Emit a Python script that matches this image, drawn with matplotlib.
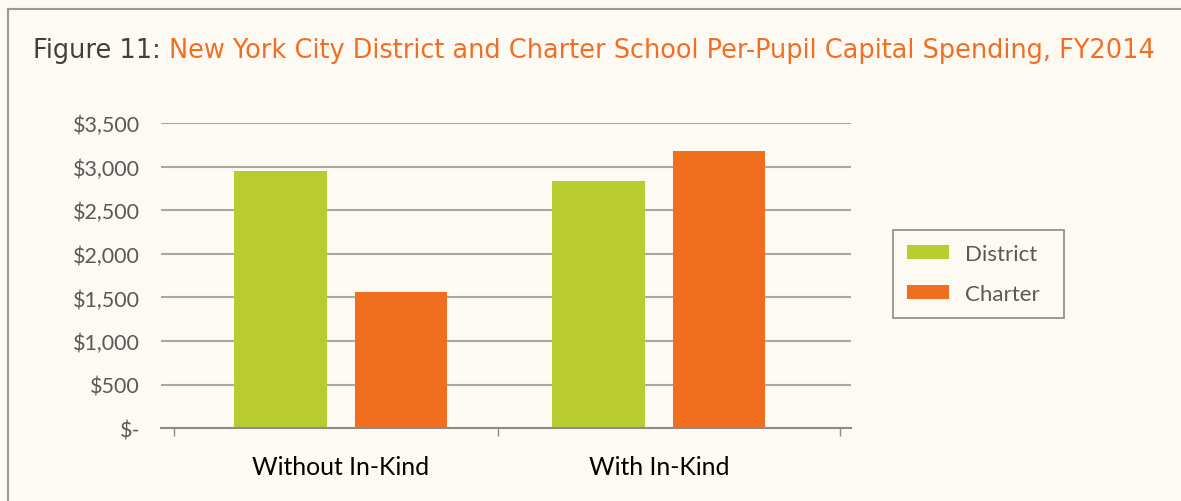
import matplotlib
matplotlib.use("Agg")
import matplotlib.pyplot as plt
import numpy as np

categories = ["Without In-Kind", "With In-Kind"]
series_names = ["District", "Charter"]
district = [2954, 2836]
charter = [1560, 3180]
yticks = [0, 500, 1000, 1500, 2000, 2500, 3000, 3500]
ytick_labels = ["$-", "$500", "$1,000", "$1,500", "$2,000", "$2,500", "$3,000", "$3,500"]
title_prefix = "Figure 11: "
title_main = "New York City District and Charter School Per-Pupil Capital Spending, FY2014"

BG = "#FDFAF3"
GREEN = "#B8CC30"
ORANGE = "#F06E1E"
GRID = "#A8A8A0"
TXT = "#595959"

fig = plt.figure(figsize=(11.81, 5.02), dpi=100, facecolor=BG)
W, H = 1181, 502

# outer border (left and top edges only visible)
fig.add_artist(plt.Line2D([8 / W, 8 / W], [0, 1 - 9.5 / H], transform=fig.transFigure,
                          color="#9A9A94", linewidth=1.5))
fig.add_artist(plt.Line2D([8 / W, 1], [1 - 9.5 / H, 1 - 9.5 / H], transform=fig.transFigure,
                          color="#9A9A94", linewidth=1.5))

ax = fig.add_axes([161 / W, (H - 429.3) / H, 690 / W, (429.3 - 124) / H])
ax.set_facecolor(BG)
x = np.arange(len(categories))
bw = 0.292
off = 0.189
ax.bar(x - off, district, bw, color=GREEN, label=series_names[0], zorder=3)
ax.bar(x + off, charter, bw, color=ORANGE, label=series_names[1], zorder=3)
ax.set_xlim(-0.566, 1.604)
ax.set_ylim(0, 3500)
ax.set_yticks(yticks)
ax.set_yticklabels(ytick_labels)
ax.yaxis.grid(True, color=GRID, linewidth=1.5, zorder=0)
ax.tick_params(axis="y", length=0, pad=15, labelsize=15.5, labelcolor=TXT)
for lab in ax.get_yticklabels():
    lab.set_fontfamily("Lato")
ax.set_xticks(x)
ax.set_xticklabels(categories, fontfamily="Lato", fontsize=17.8, color="black")
ax.tick_params(axis="x", length=0, pad=19.5)
ax.set_xticks([-0.525, 0.494, 1.57], minor=True)
ax.tick_params(axis="x", which="minor", length=6, width=1, color="#8C8C8C", direction="out")
for s in ["top", "right", "left"]:
    ax.spines[s].set_visible(False)
ax.spines["bottom"].set_color("#8C8C8C")
ax.spines["bottom"].set_linewidth(1.5)
ax.spines["bottom"].set_zorder(4)

leg = ax.legend(loc="upper left", bbox_to_anchor=(893 / W, 1 - 320 / H, 171 / W, 89 / H),
                bbox_transform=fig.transFigure, mode="expand",
                frameon=True, fancybox=False, edgecolor="#8C8C88", facecolor=BG, framealpha=1,
                prop={"family": "Lato", "size": 16}, labelcolor=TXT, handlelength=1.9, handleheight=0.6,
                handletextpad=0.72, labelspacing=0.9, borderpad=0.62, borderaxespad=0)
leg.get_frame().set_linewidth(1.2)

# title with two colours, auto-fit to width
fig.canvas.draw()
r = fig.canvas.get_renderer()
fs = 18
t1 = fig.text(33 / W, 1 - 58 / H, title_prefix, color="#404040", fontsize=fs, fontfamily="DejaVu Sans", va="baseline")
t2 = fig.text(0, 1 - 58 / H, title_main, color="#F26E22", fontsize=fs, fontfamily="DejaVu Sans", va="baseline")
w = t1.get_window_extent(r).width + t2.get_window_extent(r).width
fs = fs * 1125 / w
t1.set_fontsize(fs)
t2.set_fontsize(fs)
w1 = t1.get_window_extent(r).width
t2.set_x((33 + w1) / W)

fig.savefig("out.png", dpi=100, facecolor=BG)
